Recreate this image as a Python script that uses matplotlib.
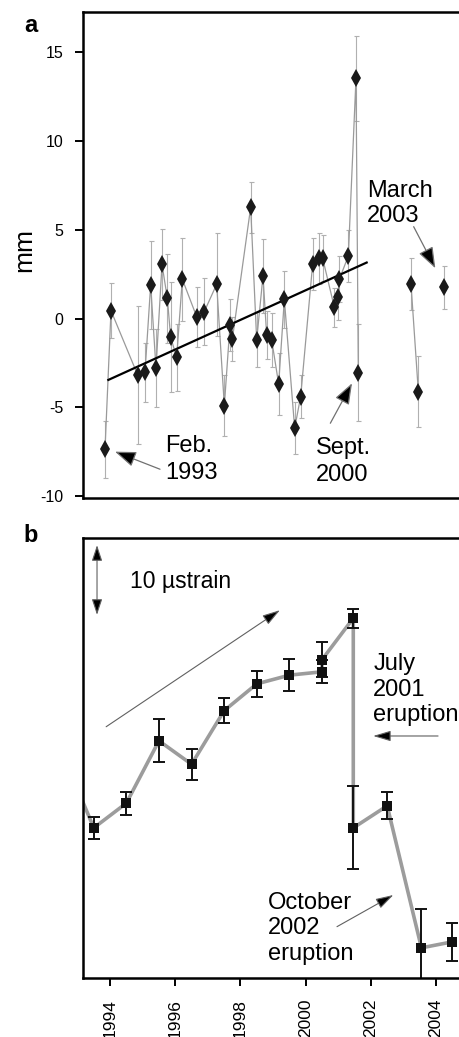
import matplotlib
matplotlib.use("Agg")
import matplotlib.pyplot as plt

plt.rcParams['font.family'] = ['Liberation Sans', 'DejaVu Sans']

# ---------------- Panel a: displacement (mm) ----------------
gps_year = [1993.10, 1993.28, 1994.08, 1994.30, 1994.47, 1994.63, 1994.81, 1994.97,
            1995.07, 1995.25, 1995.42, 1995.85, 1996.08, 1996.45, 1996.68, 1996.85,
            1996.92, 1997.47, 1997.65, 1997.84, 1997.95, 1998.10, 1998.31, 1998.48,
            1998.79, 1998.97, 1999.33, 1999.53, 1999.63, 1999.98, 2000.10, 2000.13,
            2000.40, 2000.63, 2000.70,
            2002.28, 2002.50,
            2003.28]
gps_mm = [-7.36, 0.45, -3.17, -3.02, 1.90, -2.79, 3.06, 1.15,
          -1.05, -2.18, 2.22, 0.11, 0.40, 1.94, -4.90, -0.35,
          -1.16, 6.27, -1.20, 2.40, -0.92, -1.20, -3.68, 1.09,
          -6.17, -4.39, 3.08, 3.40, 3.40, 0.64, 1.24, 2.22,
          3.53, 13.54, -3.04,
          1.95, -4.11,
          1.77]
gps_err = [1.6, 1.55, 3.9, 1.65, 2.5, 2.2, 2.0, 2.5,
           3.1, 1.9, 2.35, 1.7, 1.9, 2.9, 1.7, 1.45,
           1.25, 1.45, 1.55, 2.1, 1.35, 1.5, 1.75, 1.6,
           1.45, 1.2, 1.45, 1.45, 1.3, 1.1, 1.3, 1.3,
           1.45, 2.4, 2.75,
           1.45, 2.0,
           1.2]
gps_segment = [0] * 35 + [1] * 2 + [2]
trend_year = [1993.20, 2000.95]
trend_mm = [-3.45, 3.16]
ytick_mm = [-10, -5, 0, 5, 10, 15]

# ---------------- Panel b: strain (microstrain, relative) ----------------
strain_year = [1992.5, 1993.5, 1994.5, 1995.5, 1996.5, 1997.5, 1998.5, 1999.5,
               2000.5, 2000.5, 2001.46, 2001.46, 2002.5, 2003.55, 2004.5]
strain_val = [34.0, 22.4, 26.1, 35.4, 31.9, 39.9, 43.9, 45.2,
              45.7, 47.5, 53.7, 22.4, 25.7, 4.5, 5.4]
strain_err = [1.5, 1.6, 1.7, 3.2, 2.3, 1.9, 1.9, 2.4,
              1.7, 2.6, 1.4, 6.2, 2.0, 5.8, 2.8]
xtick_years = [1994, 1996, 1998, 2000, 2002, 2004]

W, H = 459, 1037
fig = plt.figure(figsize=(W / 100, H / 100), dpi=100)


def rect(l, t, r, b):
    return [l / W, 1 - b / H, (r - l) / W, (b - t) / H]


GRAY = '#9a9a9a'
ANN = 17

# ---- panel a
axa = fig.add_axes(rect(83, 12, 470, 498))
axa.set_xlim(1992.44, 2004.05)
axa.set_ylim(-10.1, 17.27)
for seg in sorted(set(gps_segment)):
    xs = [x for x, s in zip(gps_year, gps_segment) if s == seg]
    ys = [y for y, s in zip(gps_mm, gps_segment) if s == seg]
    es = [e for e, s in zip(gps_err, gps_segment) if s == seg]
    axa.errorbar(xs, ys, yerr=es, fmt='none', ecolor='#b0b0b0', elinewidth=0.8,
                 capsize=1.8, capthick=0.8, zorder=1)
    axa.plot(xs, ys, '-', color=GRAY, lw=0.9, zorder=2)
    axa.plot(xs, ys, 'd', color='#1a1a1a', ms=9, mew=0, zorder=4)
axa.plot(trend_year, trend_mm, '-', color='black', lw=1.6, zorder=3)
axa.set_yticks(ytick_mm)
axa.set_yticklabels([str(v) for v in ytick_mm])
axa.set_xticks([])
axa.tick_params(axis='y', direction='out', length=6, width=1.4, pad=8, labelsize=11.5)
for sp in ['left', 'top', 'bottom', 'right']:
    axa.spines[sp].set_linewidth(1.8)

arrow_a = dict(arrowstyle='-|>,head_length=0.65,head_width=0.24', fc='black',
               ec='#707070', lw=0.9, mutation_scale=20, shrinkA=0, shrinkB=0)
axa.annotate('', xy=(1993.40, -7.49), xytext=(1994.75, -8.48), arrowprops=arrow_a)
axa.annotate('', xy=(2000.51, -3.64), xytext=(1999.86, -5.89), arrowprops=arrow_a)
axa.annotate('', xy=(2003.01, 2.84), xytext=(2002.36, 5.18), arrowprops=arrow_a)
axa.text(1994.90, -6.55, 'Feb.\n1993', fontsize=ANN, va='top', ha='left', linespacing=1.3)
axa.text(1999.44, -6.65, 'Sept.\n2000', fontsize=ANN, va='top', ha='left', linespacing=1.3)
axa.text(2000.97, 7.81, 'March\n2003', fontsize=ANN, va='top', ha='left', linespacing=1.2)

fig.text(24 / W, 1 - 250 / H, 'mm', rotation=90, fontsize=19, ha='center', va='center')
fig.text(31 / W, 1 - 26 / H, 'a', fontsize=17, fontweight='bold', ha='center', va='center')
fig.text(31 / W, 1 - 536 / H, 'b', fontsize=17, fontweight='bold', ha='center', va='center')

# ---- panel b
axb = fig.add_axes(rect(83, 538, 470, 978))
axb.set_xlim(1993.17, 2005.04)
axb.set_ylim(0, 65.67)
axb.plot(strain_year, strain_val, '-', color='#9c9c9c', lw=2.6, zorder=1)
axb.errorbar(strain_year, strain_val, yerr=strain_err, fmt='none', ecolor='#111111',
             elinewidth=1.4, capsize=4.5, capthick=1.4, zorder=2)
axb.plot(strain_year, strain_val, 's', color='#111111', ms=7.5, mew=0, zorder=3)
axb.set_xticks(xtick_years)
axb.set_xticklabels([str(v) for v in xtick_years], rotation=90)
axb.set_yticks([])
axb.tick_params(axis='x', direction='out', length=6, width=1.4, pad=9, labelsize=12.5)
for sp in ['left', 'top', 'bottom', 'right']:
    axb.spines[sp].set_linewidth(1.8)

arrow_b = dict(arrowstyle='-|>,head_length=0.6,head_width=0.18', fc='black',
               ec='#606060', lw=0.8, mutation_scale=18, shrinkA=0, shrinkB=0)
axb.annotate('', xy=(1999.21, 54.9), xytext=(1993.88, 37.5), arrowprops=arrow_b)
axb.annotate('', xy=(2002.07, 36.12), xytext=(2004.06, 36.12), arrowprops=arrow_b)
axb.annotate('', xy=(2002.69, 12.39), xytext=(2000.96, 7.66), arrowprops=arrow_b)
axb.annotate('', xy=(1993.60, 64.6), xytext=(1993.60, 54.2),
             arrowprops=dict(arrowstyle='<|-|>,head_length=0.6,head_width=0.2', fc='black',
                             ec='#606060', lw=0.8, mutation_scale=16, shrinkA=0, shrinkB=0))
axb.text(1994.61, 60.9, '10 \u00b5strain', fontsize=16.5, va='top', ha='left')
axb.text(2002.07, 48.46, 'July\n2001\neruption', fontsize=ANN, va='top', ha='left')
axb.text(1998.85, 12.88, 'October\n2002\neruption', fontsize=ANN, va='top', ha='left')

fig.savefig('out.png', dpi=100)
